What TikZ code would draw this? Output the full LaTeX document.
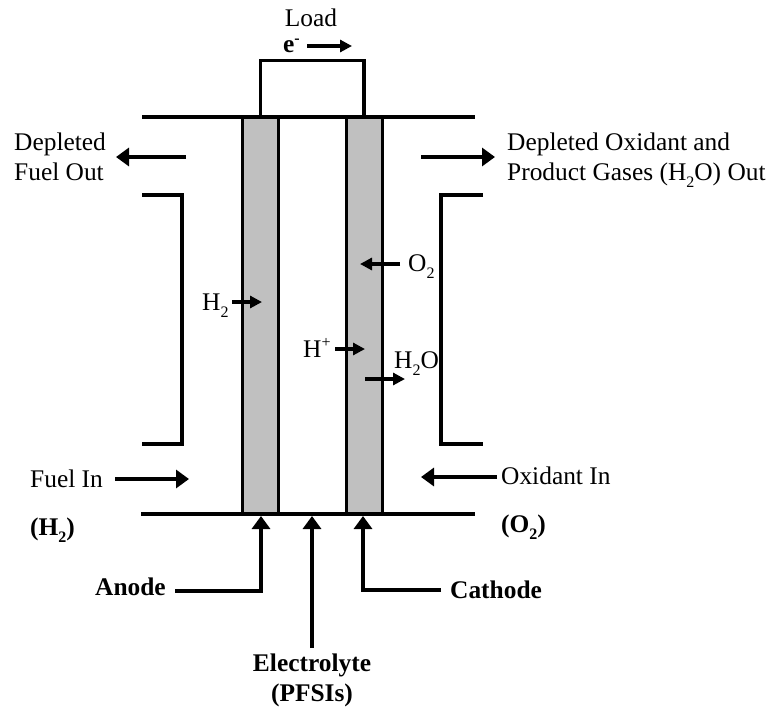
\documentclass[tikz,border=0pt]{standalone}
\usepackage{fontspec}
\setmainfont{Liberation Serif}
\usetikzlibrary{arrows.meta}
\newcommand{\lowsub}[1]{\raisebox{-0.28em}{\fontsize{16}{16}\selectfont #1}}
\newcommand{\hisup}[1]{\raisebox{0.36em}{\fontsize{16}{16}\selectfont #1}}
\tikzset{
  wire/.style={line width=3.8pt,line cap=butt,line join=miter},
  rail/.style={line width=3.2pt},
  arrowline/.style={wire,-{Triangle[length=13pt,width=18pt,sep=0pt]}},
  smallarrow/.style={line width=3.4pt,-{Triangle[length=12pt,width=12pt]}},
  plate/.style={draw,fill=plategray,line width=3pt,minimum width=36pt,minimum height=396pt,inner sep=0pt},
  lbl/.style={font=\fontsize{25.4}{29}\selectfont,inner sep=0pt,align=left},
  blbl/.style={font=\fontsize{25.4}{29}\selectfont\bfseries,inner sep=0pt,align=center},
}
\definecolor{plategray}{RGB}{192,192,192}
\begin{document}
\begin{tikzpicture}[x=1pt,y=-1pt]
\useasboundingbox (0,0) rectangle (774,713);
% plates
\node[plate] (anodeplate) at (260.5,315.5) {};
\node[plate] (cathodeplate) at (364.5,315.5) {};
% rails
\coordinate (tl) at (142,117); \coordinate (tr) at (475,117);
\coordinate (bl) at (141,514); \coordinate (br) at (475,514);
\draw[rail] (tl) -- (tr);
\draw[rail] (bl) -- (br);
% load
\coordinate (la) at (260.5,117); \coordinate (lb) at (364,117);
\draw[wire] (la) -- (260.5,60.5) -- (364,60.5) -- (lb);
% brackets
\coordinate (lb1) at (142,195); \coordinate (lb2) at (142,444);
\coordinate (rb1) at (483,195); \coordinate (rb2) at (483,444);
\draw[wire] (lb1) -- (182,195) -- (182,444) -- (lb2);
\draw[wire] (rb1) -- (441,195) -- (441,444) -- (rb2);
% labels
\node[lbl,anchor=center] (load) at (311,18) {Load};
\node[blbl,anchor=west] (eminus) at (283,46) {e\hisup{-}};
\node[lbl,anchor=west] (depfuel) at (14,157) {Depleted\\[1pt]Fuel Out};
\node[lbl,anchor=west] (depox) at (507,160) {Depleted Oxidant and\\[1pt]Product Gases (H\lowsub{2}O) Out};
\node[lbl,anchor=west] (fuelin) at (30,479) {Fuel In};
\node[lbl,anchor=west] (oxin) at (501,476) {Oxidant In};
\node[blbl,anchor=west] (h2b) at (30,530) {(H\lowsub{\bfseries 2})};
\node[blbl,anchor=west] (o2b) at (501,527) {(O\lowsub{\bfseries 2})};
\node[lbl,anchor=west] (h2) at (202,306) {H\lowsub{2}};
\node[lbl,anchor=west] (o2) at (408,267) {O\lowsub{2}};
\node[lbl,anchor=west] (hp) at (303,348) {H\hisup{+}};
\node[lbl,anchor=west] (h2o) at (394,364) {H\lowsub{2}O};
\node[blbl,anchor=west] (anode) at (95,587) {Anode};
\node[blbl,anchor=west] (cathode) at (450,590) {Cathode};
\node[blbl,anchor=north] (electrolyte) at (312,653.5) {Electrolyte\\[1pt](PFSIs)};
% flow arrows
\coordinate (e1) at (307,46); \coordinate (e2) at (352,46);
\draw[smallarrow] (e1) -- (e2);
\coordinate (a1) at (186,157); \coordinate (a2) at (116,157);
\draw[arrowline] (a1) -- (a2);
\coordinate (b1) at (421,157); \coordinate (b2) at (495,157);
\draw[arrowline] (b1) -- (b2);
\coordinate (c1) at (115,479); \coordinate (c2) at (189,479);
\draw[arrowline] (c1) -- (c2);
\coordinate (d1) at (497,477); \coordinate (d2) at (421,477);
\draw[arrowline] (d1) -- (d2);
\coordinate (f1) at (232,302); \coordinate (f2) at (262,302);
\draw[smallarrow] (f1) -- (f2);
\coordinate (g1) at (400,264); \coordinate (g2) at (360,264);
\draw[smallarrow] (g1) -- (g2);
\coordinate (h1) at (335,349); \coordinate (h2p) at (365,349);
\draw[smallarrow] (h1) -- (h2p);
\coordinate (i1) at (365,379); \coordinate (i2) at (405,379);
\draw[smallarrow] (i1) -- (i2);
% pointer arrows
\coordinate (an) at (175,591); \coordinate (ant) at (261,516);
\draw[arrowline] (an) -- (261,591) -- (ant);
\coordinate (ca) at (441,590); \coordinate (cat) at (363,516);
\draw[arrowline] (ca) -- (363,590) -- (cat);
\coordinate (el) at (312,648); \coordinate (elt) at (312,516);
\draw[arrowline] (el) -- (elt);
\end{tikzpicture}
\end{document}
